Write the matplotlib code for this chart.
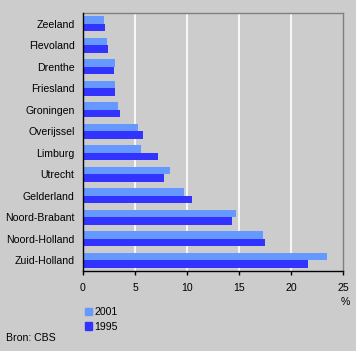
import numpy as np
import matplotlib.pyplot as plt
from matplotlib.patches import Patch

# provinces, top to bottom
provinces = ["Zeeland", "Flevoland", "Drenthe", "Friesland", "Groningen", "Overijssel",
             "Limburg", "Utrecht", "Gelderland", "Noord-Brabant", "Noord-Holland", "Zuid-Holland"]
v2001 = [2.0, 2.3, 3.1, 3.1, 3.4, 5.3, 5.6, 8.4, 9.7, 14.7, 17.3, 23.4]
v1995 = [2.1, 2.4, 3.0, 3.1, 3.6, 5.8, 7.2, 7.8, 10.5, 14.3, 17.5, 21.6]
xticks = [0, 5, 10, 15, 20, 25]

c2001 = '#6699ff'
c1995 = '#3333ff'
bg = '#cccccc'

plt.rcParams['font.family'] = ['Liberation Sans', 'DejaVu Sans']
plt.rcParams['font.size'] = 7.6

fig = plt.figure(figsize=(3.56, 3.51), dpi=100, facecolor=bg)
ax = fig.add_axes([0.233, 0.228, 0.7315, 0.735], facecolor=bg)

y = np.arange(len(provinces))
h = 0.35
ax.barh(y - h / 2, v2001, height=h, color=c2001, zorder=3)
ax.barh(y + h / 2, v1995, height=h, color=c1995, zorder=3)

# white gridlines only at inner ticks
for xv in xticks[1:-1]:
    ax.axvline(xv, color='white', linewidth=1.2, zorder=1)

ax.set_xlim(0, 25)
ax.set_ylim(11.5, -0.5)
ax.set_xticks(xticks)
ax.set_yticks(y)
ax.set_yticklabels(provinces)
ax.tick_params(axis='y', length=0, pad=6)
ax.tick_params(axis='x', length=3, width=1, color='black', pad=6)

for s in ['left', 'bottom']:
    ax.spines[s].set_color('black')
    ax.spines[s].set_linewidth(1)
    ax.spines[s].set_zorder(5)
for s in ['top', 'right']:
    ax.spines[s].set_color('#808080')
    ax.spines[s].set_linewidth(1)

fig.text(0.958, 0.14, '%', ha='left', va='center')
fig.text(0.017, 0.037, 'Bron: CBS', ha='left', va='center')

handles = [Patch(color=c2001, label='2001'), Patch(color=c1995, label='1995')]
fig.legend(handles=handles, loc='upper left', bbox_to_anchor=(0.238, 0.125),
           frameon=False, handlelength=0.7, handleheight=0.7, handletextpad=0.2,
           labelspacing=0.45, borderpad=0, borderaxespad=0)

fig.savefig('out.png', dpi=100, facecolor=bg)
